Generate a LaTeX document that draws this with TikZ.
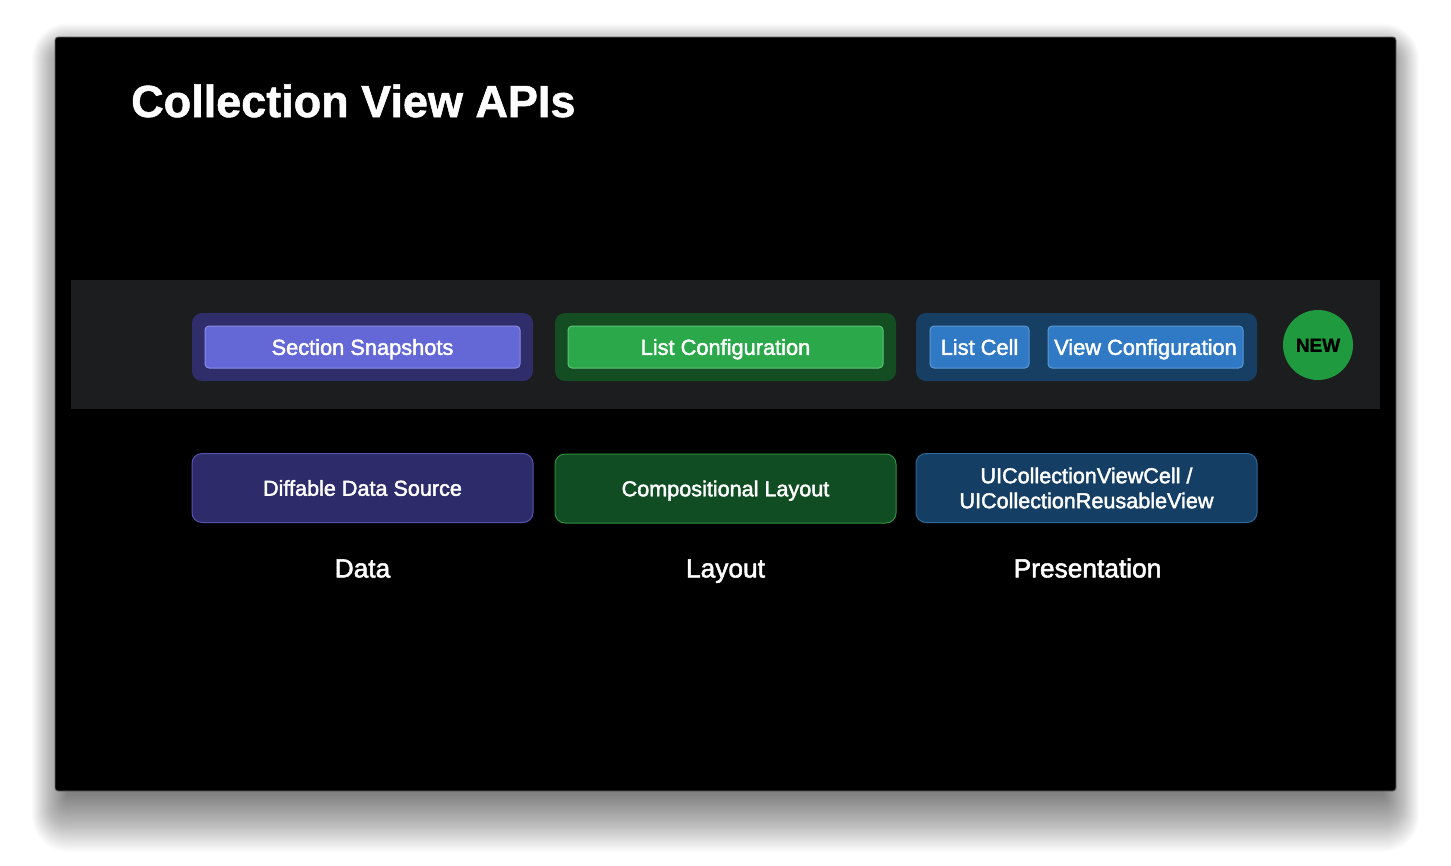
\documentclass[tikz,border=0pt]{standalone}
\usepackage{fontspec}
\setmainfont{Liberation Sans}
\newfontfamily\medfont[FakeBold=2]{Liberation Sans}
\newfontfamily\heavyfont[FakeBold=1.2]{Liberation Sans Bold}
\usetikzlibrary{positioning}
\definecolor{bandc}{HTML}{1C1D1F}
\definecolor{purpout}{HTML}{2F2E6A}
\definecolor{purpin}{HTML}{6467D6}
\definecolor{purpinb}{HTML}{8A8CE6}
\definecolor{greenout}{HTML}{154D22}
\definecolor{greenin}{HTML}{2AA84A}
\definecolor{greeninb}{HTML}{5CC477}
\definecolor{blueout}{HTML}{173F63}
\definecolor{bluein}{HTML}{2F79C5}
\definecolor{blueinb}{HTML}{5C98D6}
\definecolor{purplow}{HTML}{2D2B69}
\definecolor{purplowb}{HTML}{5553B0}
\definecolor{greenlow}{HTML}{114D23}
\definecolor{greenlowb}{HTML}{2F8F3A}
\definecolor{bluelow}{HTML}{143E63}
\definecolor{bluelowb}{HTML}{2B6A9E}
\definecolor{newc}{HTML}{1F9A3E}
\tikzset{
  outerbox/.style={rounded corners=10pt, minimum width=341pt, minimum height=68pt, inner sep=0pt},
  innerbox/.style={rounded corners=4pt, minimum height=42pt, inner sep=0pt, text=white, font=\medfont\fontsize{21.8}{26}\selectfont, line width=1pt, text height=15.7pt, text depth=0pt},
  lowbox/.style={rounded corners=10pt, minimum width=341pt, minimum height=69pt, inner sep=0pt, text=white, font=\medfont\fontsize{21.6}{25}\selectfont, align=center, line width=1pt},
  onelow/.style={text height=15.5pt, text depth=0pt},
  labeltext/.style={text=white, font=\medfont\fontsize{26.3}{31}\selectfont, inner sep=0pt, text height=18.9pt, text depth=0pt}
}
\begin{document}
\begin{tikzpicture}[x=1pt,y=-1pt]
\useasboundingbox (0,0) rectangle (1451,865);
\fill[white] (0,0) rectangle (1451,865);
% shadow
\foreach \i in {1,...,36}{
  \fill[black, opacity=0.016, rounded corners=\i pt] (68-\i*1.0,37+26-\i*1.1) rectangle (1383+\i*1.0,791+3+\i*1.6);
}
% slide
\node[draw=black!60, fill=black, line width=0.8pt, rounded corners=3pt, minimum width=1341pt, minimum height=754pt, inner sep=0pt] (slide) at (725.5,414) {};
\node[anchor=base west, text=white, font=\heavyfont\fontsize{45}{54}\selectfont, inner sep=0pt] (title) at (131,117) {Collection View APIs};
% band
\node[fill=bandc, minimum width=1309pt, minimum height=129pt, inner sep=0pt] (band) at (725.5,344.5) {};
% outer boxes
\node[outerbox, fill=purpout] (dataout) at (362.5,347) {};
\node[outerbox, fill=greenout] (layoutout) at (725.5,347) {};
\node[outerbox, fill=blueout] (presout) at (1086.5,347) {};
% inner boxes
\node[innerbox, fill=purpin, draw=purpinb, minimum width=315pt] (snap) at (362.5,347) {Section Snapshots};
\node[innerbox, fill=greenin, draw=greeninb, minimum width=315pt] (listconf) at (725.5,347) {List Configuration};
\node[innerbox, fill=bluein, draw=blueinb, minimum width=99pt] (listcell) at (979.5,347) {List Cell};
\node[innerbox, fill=bluein, draw=blueinb, minimum width=195pt] (viewconf) at (1145.5,347) {View Configuration};
% NEW badge
\node[circle, fill=newc, minimum size=70pt, inner sep=0pt, text=black, font=\heavyfont\fontsize{19}{22}\selectfont, text height=13.7pt, text depth=0pt] (new) at (1318,345) {NEW};
% lower boxes
\node[lowbox, fill=purplow, draw=purplowb, onelow] (dds) at (362.5,488) {Diffable Data Source};
\node[lowbox, fill=greenlow, draw=greenlowb, onelow] (comp) at (725.5,488.5) {Compositional Layout};
\node[lowbox, fill=bluelow, draw=bluelowb] (uicell) at (1086.5,488) {UICollectionViewCell /\\UICollectionReusableView};
% labels
\node[labeltext] (data) at (362.5,568) {Data};
\node[labeltext] (layout) at (725.5,568) {Layout};
\node[labeltext] (pres) at (1087.5,568) {Presentation};
\end{tikzpicture}
\end{document}
